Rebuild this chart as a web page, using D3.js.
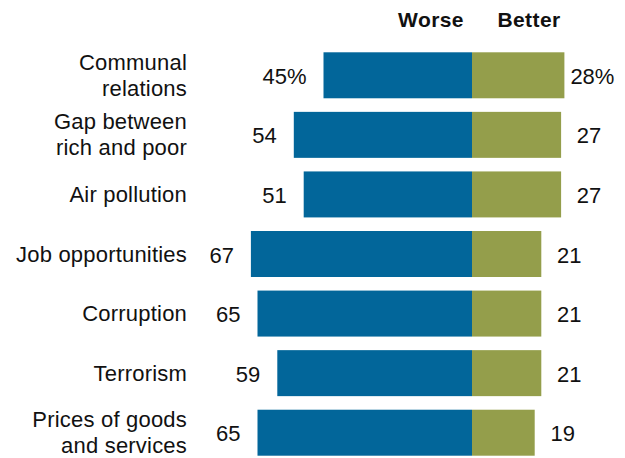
<!DOCTYPE html>
<html>
<head>
<meta charset="utf-8">
<script src="https://cdn.jsdelivr.net/npm/d3@7"></script>
<style>
  html, body { margin: 0; padding: 0; background: #fff; }
  svg { display: block; }
  text { font-family: "Liberation Sans", Arial, sans-serif; fill: #111; }
</style>
</head>
<body>
<svg id="chart" width="625" height="458"></svg>
<script>
// Data
const categories = [
  ["Communal", "relations"],
  ["Gap between", "rich and poor"],
  ["Air pollution"],
  ["Job opportunities"],
  ["Corruption"],
  ["Terrorism"],
  ["Prices of goods", "and services"]
];
const worse  = [45, 54, 51, 67, 65, 59, 65];
const better = [28, 27, 27, 21, 21, 21, 19];
const seriesNames = ["Worse", "Better"];
const colors = ["#02669A", "#949E4B"];

const svg = d3.select("#chart");
const keys = categories.map(c => c.join(" "));

const x = d3.scaleLinear().domain([-100, 100]).range([142, 802]);
const y = d3.scaleBand().domain(keys).range([45.5, 462.5]).paddingInner(0.228).paddingOuter(0.114);

const rows = svg.append("g").selectAll("g.row")
  .data(keys.map((k, i) => ({ key: k, lines: categories[i], w: worse[i], b: better[i], i })))
  .join("g").attr("class", "row");

// Worse bars
rows.append("rect")
  .attr("x", d => x(-d.w))
  .attr("y", d => y(d.key))
  .attr("width", d => x(0) - x(-d.w))
  .attr("height", y.bandwidth())
  .attr("fill", colors[0]);

// Better bars
rows.append("rect")
  .attr("x", x(0))
  .attr("y", d => y(d.key))
  .attr("width", d => x(d.b) - x(0))
  .attr("height", y.bandwidth())
  .attr("fill", colors[1]);

const cy = d => y(d.key) + y.bandwidth() / 2;

// Worse values
rows.append("text")
  .attr("x", d => x(-d.w) - 17)
  .attr("y", d => cy(d) + 8.5)
  .attr("text-anchor", "end")
  .attr("font-size", 22)
  .text(d => d.i === 0 ? d.w + "%" : d.w);

// Better values
rows.append("text")
  .attr("x", d => x(d.b) + 28)
  .attr("y", d => cy(d) + 8.5)
  .attr("text-anchor", "middle")
  .attr("font-size", 22)
  .text(d => d.i === 0 ? d.b + "%" : d.b);

// Category labels
rows.append("text")
  .attr("text-anchor", "end")
  .attr("font-size", 22)
  .attr("letter-spacing", "0.2px")
  .each(function(d) {
    const t = d3.select(this);
    const n = d.lines.length;
    const lh = 26;
    const first = cy(d) + 7.5 - (n - 1) * lh / 2;
    d.lines.forEach((line, j) => {
      t.append("tspan").attr("x", 187).attr("y", first + j * lh).text(line);
    });
  });

// Header
svg.append("text")
  .attr("x", 431).attr("y", 27)
  .attr("text-anchor", "middle")
  .attr("font-size", 21).attr("font-weight", "bold")
  .attr("letter-spacing", "0.4px")
  .text(seriesNames[0]);
svg.append("text")
  .attr("x", 529).attr("y", 27)
  .attr("text-anchor", "middle")
  .attr("font-size", 21).attr("font-weight", "bold")
  .attr("letter-spacing", "0.4px")
  .text(seriesNames[1]);
</script>
</body>
</html>
